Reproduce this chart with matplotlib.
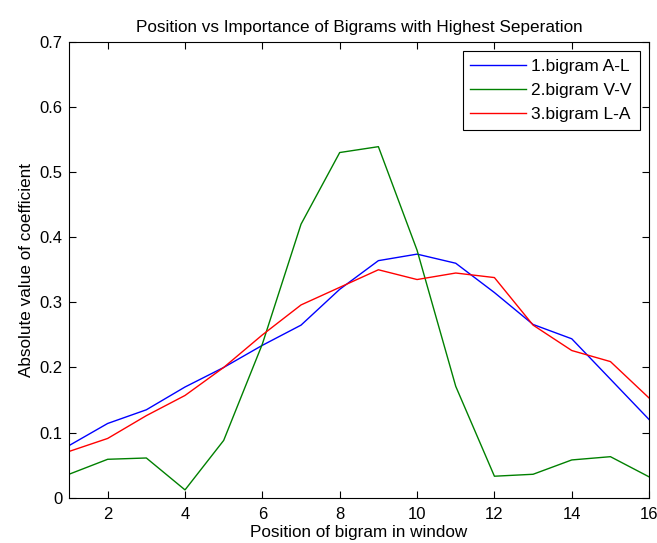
import numpy as np
import matplotlib
matplotlib.use('Agg')
import matplotlib.pyplot as plt

plt.rcParams['font.family'] = ['Liberation Sans', 'DejaVu Sans']
plt.rcParams['font.size'] = 12

# data
position = np.arange(1, 17)
bigram_al = [0.080, 0.114, 0.135, 0.170, 0.200, 0.234, 0.265, 0.320, 0.364, 0.374,
             0.360, 0.315, 0.266, 0.244, 0.182, 0.120]
bigram_vv = [0.036, 0.059, 0.061, 0.012, 0.088, 0.236, 0.420, 0.530, 0.539, 0.380,
             0.171, 0.033, 0.036, 0.058, 0.063, 0.032]
bigram_la = [0.071, 0.091, 0.126, 0.157, 0.200, 0.250, 0.296, 0.323, 0.350, 0.335,
             0.345, 0.338, 0.265, 0.226, 0.209, 0.153]
labels = ['1.bigram A-L', '2.bigram V-V', '3.bigram L-A']

fig = plt.figure(figsize=(6.57, 5.43), dpi=100)
ax = fig.add_axes([0.105, 0.0834, 0.883, 0.8396])

ax.plot(position, bigram_al, color=(0, 0, 1), lw=1.0, label=labels[0])
ax.plot(position, bigram_vv, color=(0, 0.5, 0), lw=1.0, label=labels[1])
ax.plot(position, bigram_la, color=(1, 0, 0), lw=1.0, label=labels[2])

ax.set_xlim(1, 16)
ax.set_ylim(0, 0.7)
ax.set_xticks(np.arange(2, 17, 2))
ax.set_yticks(np.arange(0, 0.71, 0.1))
ax.set_yticklabels(['0', '0.1', '0.2', '0.3', '0.4', '0.5', '0.6', '0.7'])
ax.tick_params(direction='in', top=True, right=True, length=5, width=0.8,
               labelsize=12, pad=4.5)
ax.tick_params(axis='x', pad=7)
for s in ax.spines.values():
    s.set_linewidth(0.8)

ax.set_title('Position vs Importance of Bigrams with Highest Seperation', fontsize=12.3, pad=7)
ax.set_xlabel('Position of bigram in window', fontsize=12.3, labelpad=2)
ax.set_ylabel('Absolute value of coefficient', fontsize=12.3, labelpad=4)

leg = ax.legend(loc='upper right', fontsize=12.5, fancybox=False, framealpha=1,
                edgecolor='black', borderpad=0.45, handlelength=3.2, handletextpad=0.3,
                labelspacing=0.5, borderaxespad=0.55)
leg.get_frame().set_linewidth(0.8)

fig.savefig('out.png', dpi=100)
